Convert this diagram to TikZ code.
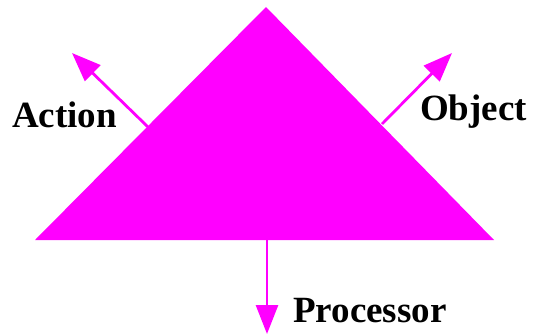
\documentclass[tikz,border=0pt]{standalone}
\usepackage{fontspec}
\setmainfont{Liberation Serif}
\usetikzlibrary{arrows.meta}
\definecolor{mag}{HTML}{FF00FF}
\begin{document}
\begin{tikzpicture}[x=1bp,y=-1bp,
  conn/.style={draw=mag,line width=2.8bp,-{Triangle[length=29bp,width=22bp]}},
  lbl/.style={font=\fontsize{37bp}{40bp}\selectfont\bfseries,inner sep=0pt,anchor=base west}]
\useasboundingbox (0,0) rectangle (534,333);
\fill[mag] (266,7) -- (494,240) -- (35,240) -- cycle;
\coordinate (la) at (148,127);
\coordinate (lt) at (72,53);
\coordinate (ra) at (382,124);
\coordinate (rt) at (452,53);
\coordinate (ba) at (267,238);
\coordinate (bt) at (267,334);
\draw[conn] (la) -- (lt);
\draw[conn] (ra) -- (rt);
\draw[conn] (ba) -- (bt);
\node[lbl] (action) at (12,127) {Action};
\node[lbl] (object) at (420,120) {Object};
\node[lbl] (proc) at (293,322) {Processor};
\end{tikzpicture}
\end{document}
